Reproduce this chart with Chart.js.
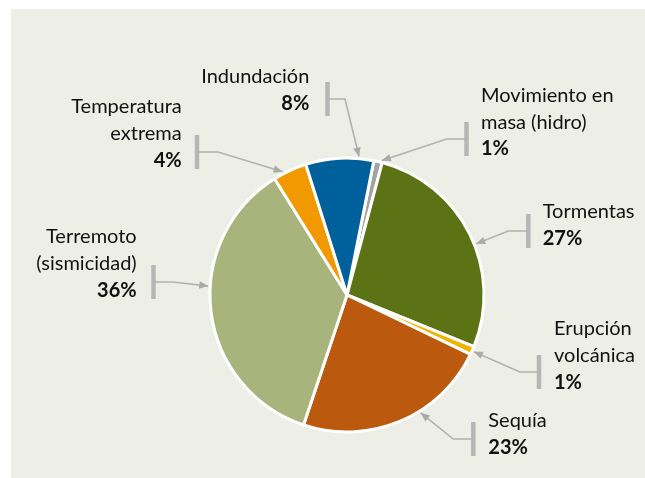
<!DOCTYPE html>
<html>
<head>
<meta charset="utf-8">
<script src="https://cdn.jsdelivr.net/npm/chart.js@4.4.1/dist/chart.umd.min.js"></script>
<style>
  html, body { margin: 0; padding: 0; background: #fff; }
  #wrap { width: 645px; height: 478px; }
</style>
</head>
<body>
<div id="wrap"><canvas id="pie" width="645" height="478"></canvas></div>
<script>
// datos (%), en el orden del gráfico, empezando arriba y en sentido horario
const categories = ["Movimiento en masa (hidro)", "Tormentas", "Erupción volcánica", "Sequía",
                    "Terremoto (sismicidad)", "Temperatura extrema", "Indundación"];
const shares = [1, 27, 1, 23, 36, 4, 8];
const nameLines = [["Movimiento en", "masa (hidro)"], ["Tormentas"], ["Erupción", "volcánica"], ["Sequía"],
                   ["Terremoto", "(sismicidad)"], ["Temperatura", "extrema"], ["Indundación"]];
const sliceColors = ["#a3a3a3", "#5b7314", "#f2b300", "#bb5a0f", "#a8b47b", "#f39900", "#00609c"];

// posición de las etiquetas (barra gris, texto, codo de la flecha, punto sobre el arco)
const callouts = [
    { barX: 466.5, barY: 122, textX: 481, textY: 101.7, align: "left", elbowX: 446.7, frac: 0.9 },
    { barX: 528.3, barY: 214, textX: 542.7, textY: 218.3, align: "left", elbowX: 508.3, frac: 0.55 },
    { barX: 539, barY: 355, textX: 554, textY: 335, align: "left", elbowX: 520, frac: 0.55 },
    { barX: 473.3, barY: 422, textX: 488.3, textY: 427.3, align: "left", elbowX: 453.3, frac: 0.39 },
    { barX: 153.5, barY: 265, textX: 136.7, textY: 243.3, align: "right", elbowX: 173, frac: 0.58 },
    { barX: 197, barY: 135, textX: 181.7, textY: 113.3, align: "right", elbowX: 218, frac: 0.3 },
    { barX: 327.5, barY: 82, textX: 309.3, textY: 83.3, align: "right", elbowX: 345, frac: 0.78 }
];

const FONT = "Lato, 'Noto Sans', sans-serif";
const LINE_H = 26.8;
const BAR_H = 34;

const panelPlugin = {
    id: "panel",
    beforeDraw(chart) {
        const ctx = chart.ctx;
        ctx.save();
        ctx.fillStyle = "#edefe6";
        ctx.fillRect(11, 9, chart.width - 11, chart.height - 9);
        ctx.restore();
    }
};

const calloutPlugin = {
    id: "callouts",
    afterDatasetsDraw(chart) {
        const ctx = chart.ctx;
        const arcs = chart.getDatasetMeta(0).data;
        ctx.save();
        arcs.forEach((arc, i) => {
            const c = callouts[i];
            const p = arc.getProps(["x", "y", "startAngle", "endAngle", "outerRadius"], true);
            const a = p.startAngle + c.frac * (p.endAngle - p.startAngle);
            const r = p.outerRadius + 2;
            const tipX = p.x + r * Math.cos(a);
            const tipY = p.y + r * Math.sin(a);
            const midY = c.barY + BAR_H / 2;

            // barra vertical
            ctx.fillStyle = "#b6b6b6";
            ctx.fillRect(c.barX - 2.25, c.barY, 4.5, BAR_H);

            // línea con codo
            ctx.strokeStyle = "#b1b1b1";
            ctx.lineWidth = 1.6;
            ctx.beginPath();
            ctx.moveTo(c.barX, midY);
            ctx.lineTo(c.elbowX, midY);
            ctx.lineTo(tipX, tipY);
            ctx.stroke();

            // punta de flecha
            const ang = Math.atan2(tipY - midY, tipX - c.elbowX);
            const len = 9, hw = 3.8;
            ctx.fillStyle = "#aaaaaa";
            ctx.beginPath();
            ctx.moveTo(tipX, tipY);
            ctx.lineTo(tipX - len * Math.cos(ang) + hw * Math.sin(ang), tipY - len * Math.sin(ang) - hw * Math.cos(ang));
            ctx.lineTo(tipX - len * Math.cos(ang) - hw * Math.sin(ang), tipY - len * Math.sin(ang) + hw * Math.cos(ang));
            ctx.closePath();
            ctx.fill();

            // texto
            ctx.fillStyle = "#111111";
            ctx.textAlign = c.align;
            ctx.textBaseline = "alphabetic";
            const lines = nameLines[i];
            ctx.font = "20px " + FONT;
            lines.forEach((t, k) => ctx.fillText(t, c.textX, c.textY + k * LINE_H));
            ctx.font = "bold 20px " + FONT;
            ctx.fillText(shares[i] + "%", c.textX, c.textY + lines.length * LINE_H);
        });
        ctx.restore();
    }
};

new Chart(document.getElementById("pie"), {
    type: "pie",
    data: {
        labels: categories,
        datasets: [{
            data: shares,
            backgroundColor: sliceColors,
            borderColor: "#ffffff",
            borderWidth: 3
        }]
    },
    options: {
        responsive: false,
        animation: false,
        events: [],
        rotation: 11.3,
        radius: 137,
        layout: { padding: { left: 60, right: 11, top: 120, bottom: 8 } },
        plugins: {
            legend: { display: false },
            tooltip: { enabled: false }
        }
    },
    plugins: [panelPlugin, calloutPlugin]
});
</script>
</body>
</html>
